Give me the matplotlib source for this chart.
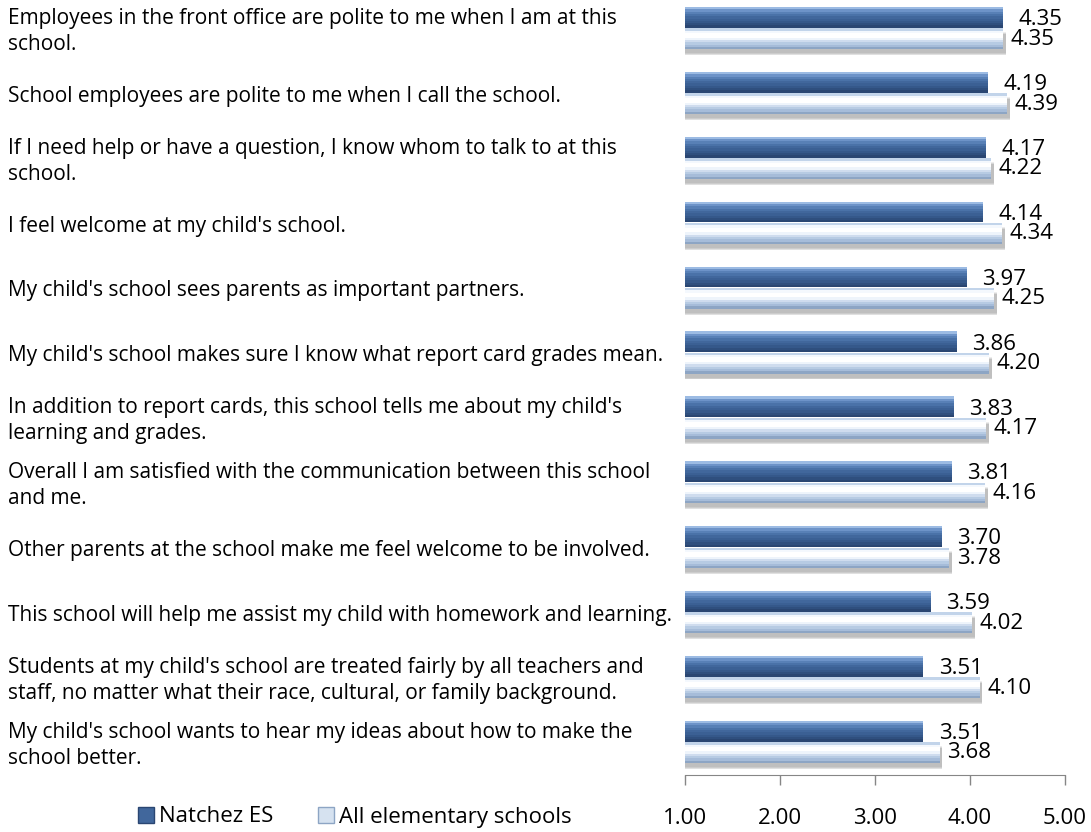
import matplotlib.pyplot as plt
import matplotlib.transforms as mtransforms
from matplotlib.patches import Patch
import numpy as np

plt.rcParams['font.family'] = ['Open Sans', 'DejaVu Sans']

questions = [
    "Employees in the front office are polite to me when I am at this\nschool.",
    "School employees are polite to me when I call the school.",
    "If I need help or have a question, I know whom to talk to at this\nschool.",
    "I feel welcome at my child's school.",
    "My child's school sees parents as important partners.",
    "My child's school makes sure I know what report card grades mean.",
    "In addition to report cards, this school tells me about my child's\nlearning and grades.",
    "Overall I am satisfied with the communication between this school\nand me.",
    "Other parents at the school make me feel welcome to be involved.",
    "This school will help me assist my child with homework and learning.",
    "Students at my child's school are treated fairly by all teachers and\nstaff, no matter what their race, cultural, or family background.",
    "My child's school wants to hear my ideas about how to make the\nschool better.",
]
natchez = [4.35, 4.19, 4.17, 4.14, 3.97, 3.86, 3.83, 3.81, 3.70, 3.59, 3.51, 3.51]
all_elem = [4.35, 4.39, 4.22, 4.34, 4.25, 4.20, 4.17, 4.16, 3.78, 4.02, 4.10, 3.68]
series_names = ["Natchez ES", "All elementary schools"]
xticks = [1, 2, 3, 4, 5]

# vertical colour profiles (top -> bottom) to fake Excel's bevelled bars
dark_cols = ['#9cbbe3', '#6d93c8', '#5880b6', '#4a72a8', '#41679c', '#3b6094', '#35588a', '#2f4f7e', '#2a4672']
light_cols = ['#c2d4ea', '#f4f8fd', '#ffffff', '#ffffff', '#eef4fb', '#cfdcee', '#b7cbe3', '#a6bcd9', '#8da5c4']

fig = plt.figure(figsize=(10.91, 8.32), dpi=100)
ax = fig.add_axes([685 / 1091, 57 / 832, 380 / 1091, 780 / 832])

y = np.arange(len(questions))
h = 0.32
base = 1.0

for vals, yc, cols in [(natchez, y - 0.165, dark_cols), (all_elem, y + 0.165, light_cols)]:
    vals = np.array(vals)
    n = len(cols)
    if cols is light_cols:
        # soft drop shadow under the lower bar
        for k, a in enumerate([0.10, 0.14, 0.18]):
            ax.barh(yc + 0.06 + 0.015 * k, vals - base + 0.03, height=h, left=base,
                    color='#555555', alpha=a, linewidth=0, zorder=1)
    for k, col in enumerate(cols):
        top = yc - h / 2 + h * k / n
        bottom = yc + h / 2
        ax.barh((top + bottom) / 2, vals - base, height=bottom - top, left=base,
                color=col, linewidth=0, zorder=2)

for i in range(len(questions)):
    ax.text(natchez[i] + 0.16, y[i] - 0.13, f"{natchez[i]:.2f}", fontsize=16, va='center', ha='left')
    ax.text(all_elem[i] + 0.08, y[i] + 0.17, f"{all_elem[i]:.2f}", fontsize=16, va='center', ha='left')

trans = mtransforms.blended_transform_factory(fig.transFigure, ax.transData)
for i, q in enumerate(questions):
    ax.text(8 / 1091, y[i] + 0.05, q, transform=trans, fontsize=15, va='center', ha='left',
            linespacing=1.3, clip_on=False)

ax.set_xlim(1, 5)
ax.set_ylim(11.51, -0.51)
ax.set_xticks(xticks)
ax.set_xticklabels([f"{t:.2f}" for t in xticks], fontsize=16)
ax.tick_params(axis='x', length=7, width=1, color='#868686', pad=17)
ax.set_yticks([])
for s in ['top', 'right', 'left']:
    ax.spines[s].set_visible(False)
ax.spines['bottom'].set_color('#868686')

handles = [Patch(facecolor='#41679c', edgecolor='#2a4672'),
           Patch(facecolor='#d6e2f0', edgecolor='#8da5c4')]
fig.legend(handles, series_names, loc='center right', bbox_to_anchor=(572 / 1091, 1 - 817 / 832), ncol=2,
           frameon=False, fontsize=16, handlelength=0.7, handleheight=0.7, handletextpad=0.25,
           columnspacing=2.0, borderpad=0, borderaxespad=0)

fig.savefig('out.png', dpi=100)
